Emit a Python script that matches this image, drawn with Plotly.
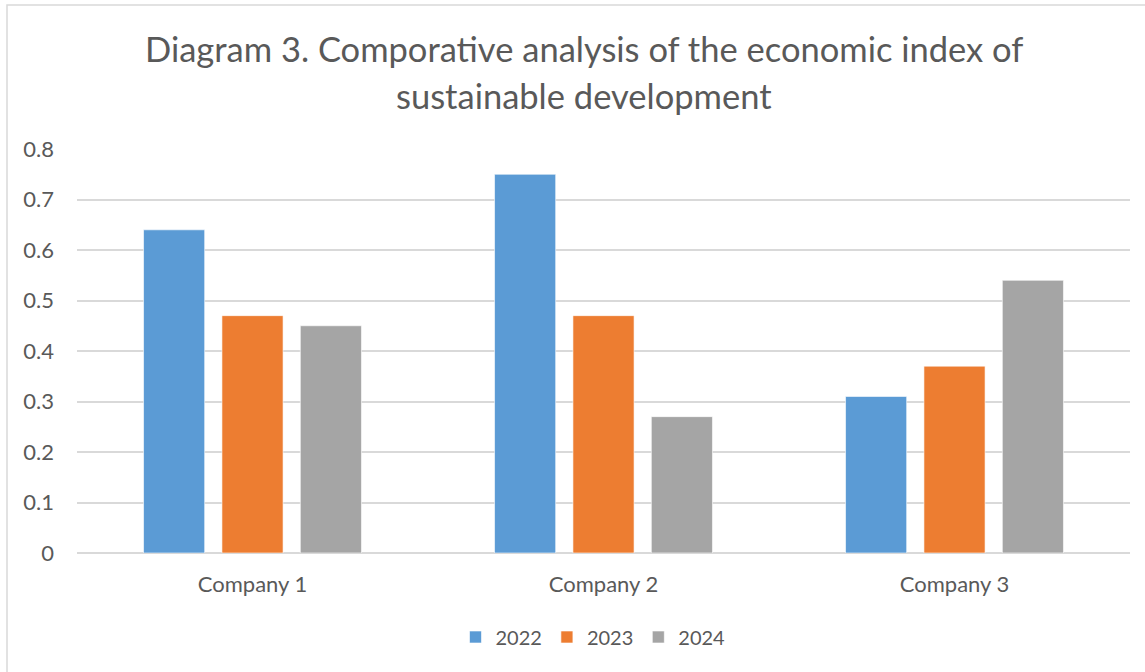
import plotly.graph_objects as go

# Data
companies = ["Company 1", "Company 2", "Company 3"]
years = ["2022", "2023", "2024"]
values_2022 = [0.64, 0.75, 0.31]
values_2023 = [0.47, 0.47, 0.37]
values_2024 = [0.45, 0.27, 0.54]
y_ticks = [0, 0.1, 0.2, 0.3, 0.4, 0.5, 0.6, 0.7, 0.8]
title_lines = [
    "Diagram 3. Comporative analysis of the economic index of",
    "sustainable development",
]

series = [values_2022, values_2023, values_2024]
colors = ["#5B9BD5", "#ED7D31", "#A5A5A5"]

W, H = 1145, 672
ML, MR, MT, MB = 77, 15, 149, 119
FONT = "Lato"
TXT = "#595959"
pw, ph = W - ML - MR, H - MT - MB


def px(pixel_x):
    """Convert a page pixel column into paper x coordinates."""
    return (pixel_x - ML) / pw


def py(pixel_y):
    """Convert a page pixel row into paper y coordinates."""
    return (H - MB - pixel_y) / ph


fig = go.Figure()
for name, vals, col in zip(years, series, colors):
    fig.add_trace(go.Bar(
        x=companies, y=vals, name=name,
        marker=dict(color=col, line=dict(color="rgba(255,255,255,0.6)", width=1)),
    ))

# outer chart border (light gray frame)
fig.add_shape(
    type="rect", xref="paper", yref="paper",
    x0=px(7), x1=px(W + 5),
    y0=py(H + 5), y1=py(5),
    line=dict(color="#D9D9D9", width=1.5), fillcolor="rgba(0,0,0,0)",
    layer="below",
)

# two-line chart title
for line, row in zip(title_lines, [48, 95]):
    fig.add_annotation(
        text=line, xref="paper", yref="paper",
        x=px(584), y=py(row), xanchor="center", yanchor="middle",
        showarrow=False, font=dict(family=FONT, size=34.5, color=TXT),
    )

fig.update_layout(
    width=W, height=H,
    margin=dict(l=ML, r=MR, t=MT, b=MB),
    paper_bgcolor="white", plot_bgcolor="white",
    font=dict(family=FONT, color=TXT, size=22),
    barmode="group", bargap=0.33, bargroupgap=0.22,
    showlegend=True,
    legend=dict(
        orientation="h", x=px(593), xanchor="center",
        y=py(637), yanchor="middle",
        font=dict(size=20, color=TXT), itemwidth=30,
        traceorder="normal",
    ),
    xaxis=dict(
        showgrid=False, showline=False, zeroline=False,
        ticks="", ticklabelstandoff=16,
        tickfont=dict(size=22, color=TXT),
    ),
    yaxis=dict(
        range=[0, 0.8], tickvals=y_ticks,
        ticktext=[f"{v:g}" for v in y_ticks],
        showgrid=True, gridcolor="#D9D9D9", gridwidth=1.5,
        zeroline=True, zerolinecolor="#D9D9D9", zerolinewidth=1.5,
        showline=False, ticks="", ticklabelstandoff=22,
        tickfont=dict(size=22, color=TXT),
    ),
)

fig.write_html("out.html")
